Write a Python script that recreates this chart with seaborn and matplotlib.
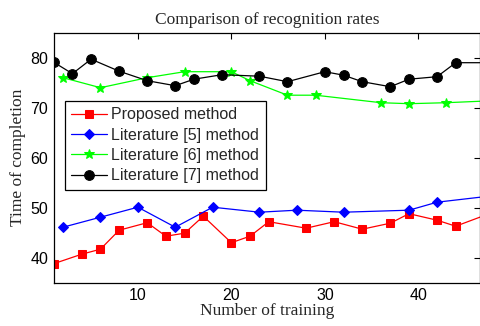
import seaborn as sns
import matplotlib.pyplot as plt
import pandas as pd

# Series
x_prop = [1, 4, 6, 8, 11, 13, 15, 17, 20, 22, 24, 28, 31, 34, 37, 39, 42, 44, 47]
y_prop = [38.8, 40.7, 41.7, 45.5, 47.0, 44.3, 44.9, 48.3, 43.0, 44.3, 47.2, 45.9, 47.2, 45.7, 46.9, 48.8, 47.5, 46.3, 48.4]

x_lit5 = [2, 6, 10, 14, 18, 23, 27, 32, 39, 42, 48]
y_lit5 = [46.1, 48.1, 50.1, 46.1, 50.1, 49.1, 49.5, 49.1, 49.5, 51.1, 52.4]

x_lit6 = [2, 6, 11, 15, 20, 22, 26, 29, 36, 39, 43, 48]
y_lit6 = [76.0, 74.0, 76.0, 77.2, 77.2, 75.4, 72.5, 72.5, 71.0, 70.8, 71.0, 71.4]

x_lit7 = [1, 3, 5, 8, 11, 14, 16, 19, 23, 26, 30, 32, 34, 37, 39, 42, 44, 48]
y_lit7 = [79.1, 76.8, 79.7, 77.3, 75.4, 74.4, 75.7, 76.6, 76.3, 75.2, 77.2, 76.5, 75.2, 74.2, 75.7, 76.2, 79.0, 79.0]

labels = ["Proposed method", "Literature [5] method", "Literature [6] method", "Literature [7] method"]
colors = ["#ff0000", "#0000ff", "#00ff00", "#000000"]
markers = ["s", "D", "*", "o"]
msizes = [6, 5, 7.5, 7]

sns.set_style("white")
plt.rcParams['font.family'] = ['Liberation Sans', 'DejaVu Sans']

fig = plt.figure(figsize=(4.8, 3.26), dpi=100)
left = 53.7 / 480
ax = fig.add_axes([left, 1 - 282.7 / 326, 1.0 - left, (282.7 - 32.7) / 326])

series = [(x_prop, y_prop), (x_lit5, y_lit5), (x_lit6, y_lit6), (x_lit7, y_lit7)]
for (xs, ys), lab, c, m, ms in zip(series, labels, colors, markers, msizes):
    df = pd.DataFrame({"x": xs, "y": ys})
    sns.lineplot(data=df, x="x", y="y", ax=ax, color=c, marker=m, markersize=ms,
                 markeredgecolor=c, linewidth=0.9, label=lab, clip_on=True)

ax.set_xlim(1, 1 + (480 - 53.7) / 9.35)
ax.set_ylim(35, 85)
ax.set_xticks([10, 20, 30, 40])
ax.set_yticks([40, 50, 60, 70, 80])
ax.tick_params(direction='in', top=True, right=True, length=4, width=0.8,
               labelsize=11.5, colors='black', pad=4)
for sp in ax.spines.values():
    sp.set_color('black')
    sp.set_linewidth(0.9)

serif = ['Liberation Serif', 'DejaVu Serif']
ax.set_title("Comparison of recognition rates", family=serif, fontsize=12.5, pad=6)
ax.set_xlabel("Number of training", family=serif, fontsize=12.5, labelpad=0)
ax.set_ylabel("Time of completion", family=serif, fontsize=12.5, labelpad=3)

leg = ax.legend(loc='upper left', bbox_to_anchor=((65 - 53.7) / (480 - 53.7), (282.7 - 101) / 250),
                borderaxespad=0, fancybox=False, framealpha=1, edgecolor='black',
                fontsize=11.5, handlelength=2.2, handletextpad=0.3, labelspacing=0.33,
                borderpad=0.4)
leg.get_frame().set_linewidth(0.9)

fig.savefig("out.png", dpi=100)
